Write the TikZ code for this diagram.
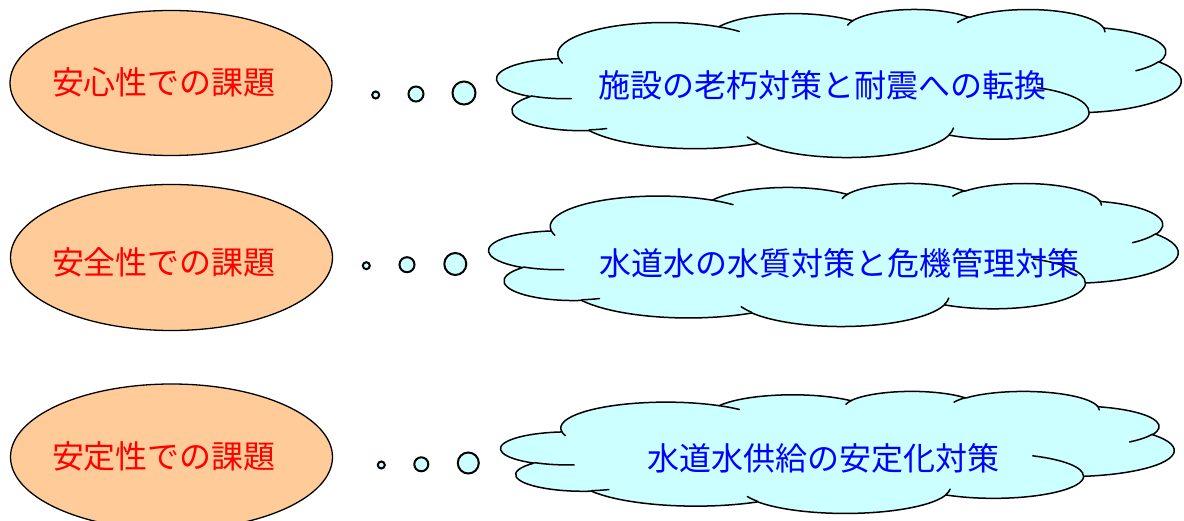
\documentclass[tikz,border=0pt]{standalone}
\usepackage{fontspec}
\newfontfamily\cjkfont{Noto Sans CJK JP}
\usetikzlibrary{shapes.geometric}
\definecolor{peach}{HTML}{FFCC99}
\definecolor{cloudfill}{HTML}{CCFFFF}
\definecolor{labred}{HTML}{FF0000}
\definecolor{labblue}{HTML}{0000FF}
\newcommand\cldcalc[5]{%
  \pgfmathsetmacro\cldtmpA{atan2((#2)*sin(#4),(#3)*cos(#4))}%
  \pgfmathsetmacro\cldtmpB{atan2((#2)*sin((#4)+(#5)),(#3)*cos((#4)+(#5)))}%
  \pgfmathsetmacro\cldtmpD{\cldtmpB-\cldtmpA}%
  \pgfmathsetmacro\cldtmpD{\cldtmpD+360*(\cldtmpD<0)}%
  \expandafter\let\csname cldS#1\endcsname\cldtmpA
  \expandafter\let\csname cldD#1\endcsname\cldtmpD}
% outer lobes
\cldcalc{A}{67.53}{91.90}{-190.4875}{123.7805}
\cldcalc{B}{53.33}{72.67}{-144.1024}{89.9452}
\cldcalc{C}{43.65}{59.45}{-145.8079}{99.7230}
\cldcalc{D}{48.57}{65.95}{-130.9861}{117.2417}
\cldcalc{E}{53.33}{72.73}{-78.7089}{109.0269}
\cldcalc{F}{67.75}{92.20}{-46.2673}{130.2690}
\cldcalc{G}{57.85}{78.67}{0.6250}{114.0333}
\cldcalc{H}{67.52}{92.15}{22.4516}{115.1726}
\cldcalc{I}{77.20}{105.43}{66.2426}{75.7110}
\cldcalc{J}{43.60}{59.18}{-274.9421}{146.7356}
\cldcalc{K}{43.45}{59.45}{-246.8285}{152.5189}
% inner arcs
\cldcalc{a}{43.45}{59.45}{86.7420}{26.4295}
\cldcalc{b}{43.60}{59.18}{73.6105}{11.4475}
\cldcalc{c}{67.52}{92.15}{137.6242}{14.0811}
\cldcalc{d}{67.52}{92.15}{6.4533}{15.9984}
\cldcalc{e}{57.85}{78.67}{-70.2924}{70.9174}
\cldcalc{f}{53.33}{72.73}{30.3180}{27.7515}
\cldcalc{g}{48.57}{65.95}{-13.7443}{14.8589}
\cldcalc{h}{48.57}{65.95}{-149.1815}{18.1954}
\cldcalc{i}{43.65}{59.45}{-163.4943}{17.6864}
\cldcalc{j}{67.53}{91.90}{-66.7070}{12.3194}
\cldcalc{k}{67.53}{91.90}{157.6544}{11.8582}
\newcommand\cloudpath{%
  \filldraw[cloudbody] (39.00,143.70)
    arc[start angle=\cldSA,delta angle=\cldDA,x radius=67.53,y radius=91.90]
    arc[start angle=\cldSB,delta angle=\cldDB,x radius=53.33,y radius=72.67]
    arc[start angle=\cldSC,delta angle=\cldDC,x radius=43.65,y radius=59.45]
    arc[start angle=\cldSD,delta angle=\cldDD,x radius=48.57,y radius=65.95]
    arc[start angle=\cldSE,delta angle=\cldDE,x radius=53.33,y radius=72.73]
    arc[start angle=\cldSF,delta angle=\cldDF,x radius=67.75,y radius=92.20]
    arc[start angle=\cldSG,delta angle=\cldDG,x radius=57.85,y radius=78.67]
    arc[start angle=\cldSH,delta angle=\cldDH,x radius=67.52,y radius=92.15]
    arc[start angle=\cldSI,delta angle=\cldDI,x radius=77.20,y radius=105.43]
    arc[start angle=\cldSJ,delta angle=\cldDJ,x radius=43.60,y radius=59.18]
    arc[start angle=\cldSK,delta angle=\cldDK,x radius=43.45,y radius=59.45]
    -- cycle;
  \draw[cloudline]
    (46.93,261.77) arc[start angle=\cldSa,delta angle=\cldDa,x radius=43.45,y radius=59.45]
    (69.28,348.99) arc[start angle=\cldSb,delta angle=\cldDb,x radius=43.60,y radius=59.18]
    (164.78,390.90) arc[start angle=\cldSc,delta angle=\cldDc,x radius=67.52,y radius=92.15]
    (288.27,347.51) arc[start angle=\cldSd,delta angle=\cldDd,x radius=67.52,y radius=92.15]
    (341.29,229.54) arc[start angle=\cldSe,delta angle=\cldDe,x radius=57.85,y radius=78.67]
    (417.98,153.54) arc[start angle=\cldSf,delta angle=\cldDf,x radius=53.33,y radius=72.73]
    (383.24,54.26) arc[start angle=\cldSg,delta angle=\cldDg,x radius=48.57,y radius=65.95]
    (290.78,39.52) arc[start angle=\cldSh,delta angle=\cldDh,x radius=48.57,y radius=65.95]
    (221.41,47.20) arc[start angle=\cldSi,delta angle=\cldDi,x radius=43.65,y radius=59.45]
    (140.00,51.92) arc[start angle=\cldSj,delta angle=\cldDj,x radius=67.53,y radius=91.90]
    (41.27,157.89) arc[start angle=\cldSk,delta angle=\cldDk,x radius=67.53,y radius=91.90];
}
\tikzset{
  cloudbody/.style={fill=cloudfill, draw=black, line width=1.5pt, line join=round},
  cloudline/.style={draw=black, line width=1.5pt, line cap=round},
  issue/.style={ellipse, draw=black, fill=peach, line width=1.3pt, inner sep=0pt},
  issuetext/.style={text=labred, font=\cjkfont\fontsize{32}{36}\selectfont, inner sep=0pt},
  plantext/.style={text=labblue, font=\cjkfont\fontsize{32}{36}\selectfont, inner sep=0pt},
  bubble/.style={circle, draw=black, fill=cloudfill, line width=2pt, inner sep=0pt},
}
\begin{document}
\begin{tikzpicture}[x=1pt,y=-1pt]
\useasboundingbox (0,0) rectangle (1184,521);
\clip (0,0) rectangle (1184,521);
% issue ellipses
\node[issue, minimum width=322pt, minimum height=145pt] (e1) at (171,83) {};
\node[issue, minimum width=322pt, minimum height=146pt] (e2) at (171.5,257.5) {};
\node[issue, minimum width=322pt, minimum height=146pt] (e3) at (171.5,457) {};
\node[issuetext] (t1) at (164,82) {安心性での課題};
\node[issuetext] (t2) at (164,262) {安全性での課題};
\node[issuetext] (t3) at (164,456) {安定性での課題};
% thought bubbles
\node[bubble, minimum size=7pt]  (b11) at (375.7,95) {};
\node[bubble, minimum size=15pt] (b12) at (416,94) {};
\node[bubble, minimum size=23pt] (b13) at (464,93) {};
\node[bubble, minimum size=7pt]  (b21) at (366.3,265.7) {};
\node[bubble, minimum size=15pt] (b22) at (407,264.7) {};
\node[bubble, minimum size=22pt] (b23) at (455.3,264) {};
\node[bubble, minimum size=7pt]  (b31) at (381.3,465) {};
\node[bubble, minimum size=14pt] (b32) at (421.3,464.3) {};
\node[bubble, minimum size=21pt] (b33) at (468.3,463) {};
% clouds
\begin{scope}[shift={(497,9)}, x=1.58333pt, y=-0.34259pt]
  \cloudpath
\end{scope}
\begin{scope}[shift={(489,183)}, x=1.59491pt, y=-0.33102pt]
  \cloudpath
\end{scope}
\begin{scope}[shift={(501,391)}, x=1.55787pt, y=-0.28241pt]
  \cloudpath
\end{scope}
\node[plantext] (c1) at (822,85) {施設の老朽対策と耐震への転換};
\node[plantext] (c2) at (839,263) {水道水の水質対策と危機管理対策};
\node[plantext] (c3) at (823,458) {水道水供給の安定化対策};
\end{tikzpicture}
\end{document}
